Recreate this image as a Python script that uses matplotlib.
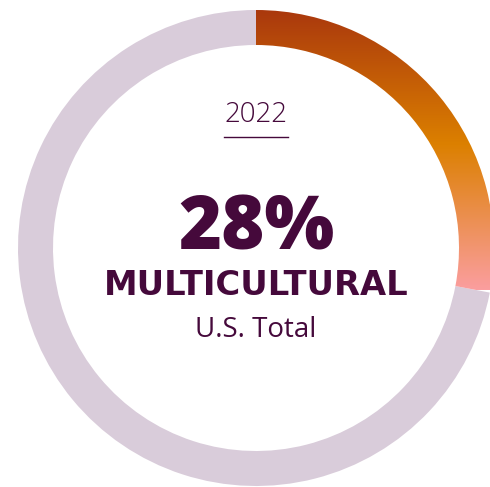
import numpy as np
import matplotlib
matplotlib.use("Agg")
import matplotlib.pyplot as plt
from matplotlib.patches import Wedge
from matplotlib.colors import LinearSegmentedColormap

year_label = "2022"
share_pct = 28
headline = "MULTICULTURAL"
subtitle = "U.S. Total"

W, H = 490, 487
fig = plt.figure(figsize=(W/100, H/100), dpi=100)
ax = fig.add_axes([0, 0, 1, 1])
ax.set_xlim(0, W)
ax.set_ylim(0, H)
ax.axis("off")

cx, cy = 256, H - 248
R, width = 238, 35
text_col = "#45093b"

end_angle = 90 - 360 * share_pct / 100
rest = Wedge((cx, cy), R, 90, end_angle + 360, width=width, facecolor="#d9ccda", edgecolor="none")
ax.add_patch(rest)

arc = Wedge((cx, cy), R, end_angle, 90, width=width, facecolor="none", edgecolor="none")
ax.add_patch(arc)
cmap = LinearSegmentedColormap.from_list("g", [(0, "#aa380d"), (0.48, "#dc8000"), (1.0, "#fb9e9f")])
ytop, ybot = H - 10, H - 290
grad = np.linspace(0, 1, 256).reshape(-1, 1)
im = ax.imshow(grad, cmap=cmap, extent=[cx - 5, cx + R + 5, ybot, ytop], origin="upper", aspect="auto", zorder=2)
im.set_clip_path(arc)

ax.text(cx, H - 122, year_label, ha="center", va="baseline", fontsize=20, color=text_col,
        family="Open Sans", weight="light")
ax.plot([224, 288], [H - 137, H - 137], color=text_col, lw=1)
ax.text(cx, H - 250, f"{share_pct}%", ha="center", va="baseline", fontsize=53, color=text_col,
        family="Open Sans", weight="heavy")
ax.text(cx, H - 295, headline, ha="center", va="baseline", fontsize=24.3, color=text_col,
        family="DejaVu Sans", weight="bold")
ax.text(cx, H - 337, subtitle, ha="center", va="baseline", fontsize=20, color=text_col,
        family="Open Sans", weight="normal")

fig.savefig("out.png", dpi=100)
